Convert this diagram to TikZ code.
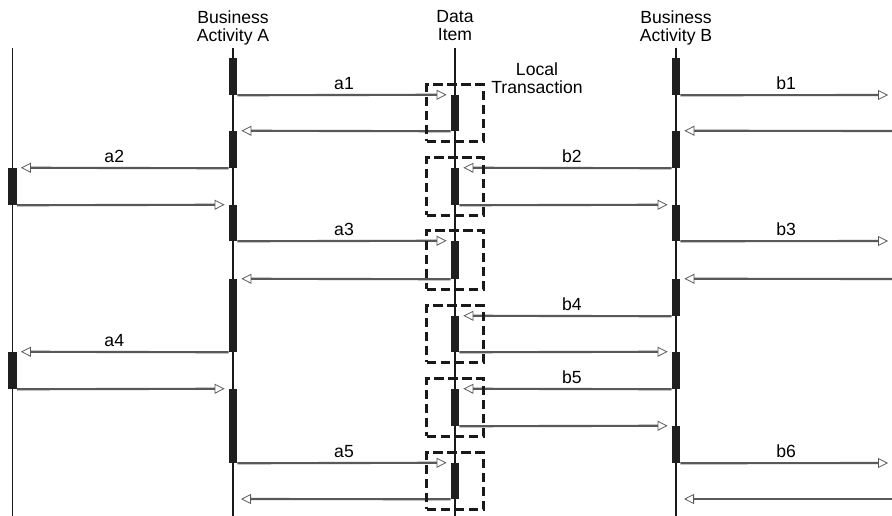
\documentclass[tikz,border=0pt]{standalone}
\usepackage{fontspec}
\setmainfont{Liberation Sans}
\usepackage{tikz}
\usetikzlibrary{positioning,fit,arrows.meta}

\begin{document}
\begin{tikzpicture}[
    x=0.75pt, y=-0.75pt,
    font=\fontsize{13.2}{13.5}\selectfont,
    life/.style={draw=black!90, line width=0.8pt},
    bar/.style={
      fill=black!88,
      inner sep=0pt,
      minimum width=6.2pt,
      minimum height=#1*0.75pt
    },
    msg/.style={
      draw=black!65,
      line width=1.6pt,
      shorten >=3pt,
      -{Triangle[open, length=7.5pt, width=7.5pt, line width=0.6pt]}
    },
    trans/.style={
      draw=black!90,
      dash pattern=on 7pt off 3.5pt,
      line width=2.3pt,
      inner xsep=18pt,
      inner ysep=7.5pt
    },
    lbl/.style={above=1pt, inner sep=2pt}
  ]
    \useasboundingbox (0,0) rectangle (892,516);

    % Kopfzeilen
    \node[align=center, anchor=north, inner sep=0pt] (hdA) at (233,10)
      {Business\\Activity A};
    \node[align=center, anchor=north, inner sep=0pt] (hdD) at (455,10)
      {Data\\Item};
    \node[align=center, anchor=north, inner sep=0pt] (hdB) at (676,10)
      {Business\\Activity B};
    \node[align=center, anchor=north, inner sep=0pt] (hdT) at (537,62)
      {Local\\Transaction};

    % Lebenslinien
    \draw[life] (12.5,48) -- (12.5,516);
    \draw[life] (233,48) -- (233,516);
    \draw[life] (455,48) -- (455,516);
    \draw[life] (676,48) -- (676,516);

    % Aktivierungsbalken
    \node[bar=37] (L1) at (12.5,186.5) {};
    \node[bar=37] (L2) at (12.5,370.5) {};

    \node[bar=37] (A1) at (233,76.5) {};
    \node[bar=37] (A2) at (233,149.5) {};
    \node[bar=36] (A3) at (233,223) {};
    \node[bar=73] (A4) at (233,315.5) {};
    \node[bar=74] (A5) at (233,426) {};

    \node[bar=36] (D1) at (455,113) {};
    \node[bar=37] (D2) at (455,186.5) {};
    \node[bar=38] (D3) at (455,260) {};
    \node[bar=36] (D4) at (455,334) {};
    \node[bar=37] (D5) at (455,407.5) {};
    \node[bar=36] (D6) at (455,481) {};

    \node[bar=37] (B1) at (676,76.5) {};
    \node[bar=37] (B2) at (676,149.5) {};
    \node[bar=36] (B3) at (676,223) {};
    \node[bar=37] (B4) at (676,297.5) {};
    \node[bar=37] (B5) at (676,370.5) {};
    \node[bar=37] (B6) at (676,444.5) {};

    % freie Enden
    \coordinate (Aend) at (237,499);
    \coordinate (Bend) at (680,499);
    \coordinate (R1) at (892,95);
    \coordinate (R2) at (892,131);
    \coordinate (R3) at (892,241);
    \coordinate (R4) at (892,279);
    \coordinate (R5) at (892,463);
    \coordinate (R6) at (892,499);

    % Nachrichten Aktivitaet A
    \draw[msg] (A1.south east) -- node[lbl] {a1} (D1.north west);
    \draw[msg] (D1.south west) -- (A2.north east);
    \draw[msg] (A2.south west) -- node[lbl, pos=0.54] {a2} (L1.north east);
    \draw[msg] (L1.south east) -- (A3.north west);
    \draw[msg] (A3.south east) -- node[lbl] {a3} (D3.north west);
    \draw[msg] (D3.south west) -- (A4.north east);
    \draw[msg] (A4.south west) -- node[lbl, pos=0.54] {a4} (L2.north east);
    \draw[msg] (L2.south east) -- (A5.north west);
    \draw[msg] (A5.south east) -- node[lbl] {a5} (D6.north west);
    \draw[msg] (D6.south west) -- (Aend);

    % Nachrichten Aktivitaet B
    \draw[msg] (B1.south east) -- node[lbl] {b1} (R1);
    \draw[msg] (R2) -- (B2.north east);
    \draw[msg] (B2.south west) -- node[lbl, pos=0.47] {b2} (D2.north east);
    \draw[msg] (D2.south east) -- (B3.north west);
    \draw[msg] (B3.south east) -- node[lbl] {b3} (R3);
    \draw[msg] (R4) -- (B4.north east);
    \draw[msg] (B4.south west) -- node[lbl, pos=0.47] {b4} (D4.north east);
    \draw[msg] (D4.south east) -- (B5.north west);
    \draw[msg] (B5.south west) -- node[lbl, pos=0.47] {b5} (D5.north east);
    \draw[msg] (D5.south east) -- (B6.north west);
    \draw[msg] (B6.south east) -- node[lbl] {b6} (R5);
    \draw[msg] (R6) -- (Bend);

    % lokale Transaktionen
    \node[trans, fit=(D1)] (T1) {};
    \node[trans, fit=(D2)] (T2) {};
    \node[trans, fit=(D3)] (T3) {};
    \node[trans, fit=(D4)] (T4) {};
    \node[trans, fit=(D5)] (T5) {};
    \node[trans, fit=(D6)] (T6) {};

  \end{tikzpicture}
\end{document}
